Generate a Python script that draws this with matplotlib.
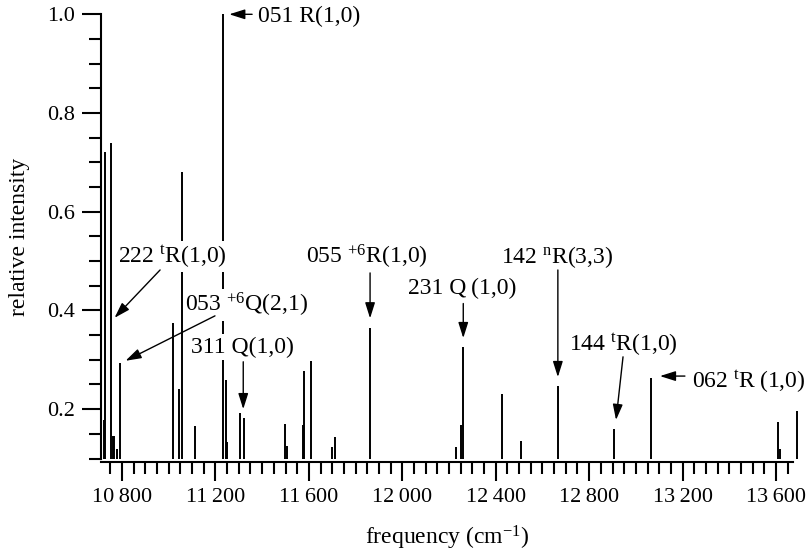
import matplotlib
matplotlib.use("Agg")
import matplotlib.pyplot as plt
from matplotlib.ticker import MultipleLocator, FixedLocator

plt.rcParams["font.family"] = ["Liberation Serif", "DejaVu Serif"]
plt.rcParams["mathtext.fontset"] = "custom"
plt.rcParams["mathtext.rm"] = "Liberation Serif"
plt.rcParams["mathtext.it"] = "Liberation Serif:italic"
plt.rcParams["mathtext.bf"] = "Liberation Serif:bold"

# Stick spectrum: line positions (cm^-1) and relative intensities
freq = [10723, 10727, 10753, 10763, 10767, 10777, 10780, 10790,
        11020, 11044, 11057, 11114, 11231, 11246, 11249, 11306, 11321,
        11499, 11506, 11574, 11579, 11609, 11699, 11712, 11862,
        12229, 12251, 12260, 12427, 12510, 12667, 12908, 13066,
        13607, 13617, 13688]
intensity = [0.178, 0.72, 0.74, 0.145, 0.145, 0.12, 0.12, 0.293,
             0.375, 0.24, 0.68, 0.166, 1.0, 0.26, 0.134, 0.193, 0.183,
             0.170, 0.125, 0.168, 0.278, 0.298, 0.124, 0.144, 0.365,
             0.123, 0.168, 0.325, 0.231, 0.136, 0.247, 0.160, 0.264,
             0.174, 0.12, 0.196]

x_major = [10800, 11200, 11600, 12000, 12400, 12800, 13200, 13600]
x_labels = ["10\u2009800", "11\u2009200", "11\u2009600", "12\u2009000",
            "12\u2009400", "12\u2009800", "13\u2009200", "13\u2009600"]
y_major = [0.2, 0.4, 0.6, 0.8, 1.0]

# label text, text position (x, y, ha), arrow start, arrow tip
notes = [
    ("051 R(1,0)", (11382, 0.996, "left"), (11357, 1.0), (11259, 1.0)),
    ("222 $^{\\mathrm{t}}$R(1,0)", (11014, 0.509, "center"), (10963, 0.482), (10768, 0.385)),
    ("053 $^{+6}$Q(2,1)", (11333, 0.411, "center"), (11198, 0.389), (10815, 0.298)),
    ("311 Q(1,0)", (11316, 0.326, "center"), (11319, 0.296), (11319, 0.200)),
    ("055 $^{+6}$R(1,0)", (11849, 0.509, "center"), (11862, 0.476), (11862, 0.384)),
    ("231 Q\u2009(1,0)", (12258, 0.445, "center"), (12261, 0.414), (12261, 0.344)),
    ("142 $^{\\mathrm{n}}$R(3,3)", (12664, 0.509, "center"), (12666, 0.482), (12666, 0.265)),
    ("144 $^{\\mathrm{t}}$R(1,0)", (12945, 0.330, "center"), (12945, 0.306), (12915, 0.178)),
    ("062 $^{\\mathrm{t}}$R\u2009(1,0)", (13240, 0.255, "left"), (13210, 0.267), (13103, 0.267)),
]

fig = plt.figure(figsize=(8.09, 5.51), dpi=100)
ax = fig.add_axes([101 / 809, 1 - 458.5 / 551, 692.3 / 809, 444.2 / 551])

ax.vlines(freq, 0.1, intensity, colors="black", linewidth=1.4, clip_on=False, zorder=2)

for label, (tx, ty, ha), start, tip in notes:
    ax.text(tx, ty, label, fontsize=17, ha=ha, va="center", zorder=3,
            bbox=dict(boxstyle="square,pad=0.1", fc="white", ec="none"))
    ax.annotate("", xy=tip, xytext=start, zorder=4,
                arrowprops=dict(arrowstyle="-|>,head_length=0.95,head_width=0.3",
                                mutation_scale=10, lw=1, color="black",
                                shrinkA=0, shrinkB=0))

ax.set_xlim(10710, 13674)
ax.set_ylim(0.1, 1.0)

ax.xaxis.set_major_locator(FixedLocator(x_major))
ax.set_xticklabels(x_labels)
ax.xaxis.set_minor_locator(MultipleLocator(50))
ax.yaxis.set_major_locator(FixedLocator(y_major))
ax.set_yticklabels(["%.1f" % v for v in y_major])
ax.yaxis.set_minor_locator(MultipleLocator(0.05))

ax.tick_params(which="major", direction="out", length=14, width=1.5, labelsize=16, pad=5)
ax.tick_params(which="minor", direction="out", length=8.5, width=1.5)

for side in ["top", "right"]:
    ax.spines[side].set_visible(False)
for side in ["left", "bottom"]:
    ax.spines[side].set_linewidth(1.5)
ax.spines["bottom"].set_position(("outward", 2.5))

ax.set_xlabel("frequency (cm$^{-1}$)", fontsize=17)
ax.xaxis.set_label_coords(0.5, -0.148)
ax.set_ylabel("relative intensity", fontsize=17)
ax.yaxis.set_label_coords(-0.1026, 0.5)

fig.savefig("out.png", dpi=100)
